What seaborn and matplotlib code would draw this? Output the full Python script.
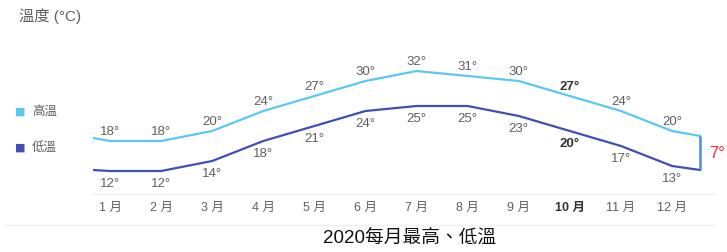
import matplotlib
matplotlib.use("Agg")
import matplotlib.pyplot as plt
from matplotlib.lines import Line2D
import seaborn as sns
import pandas as pd

# data
months = list(range(1, 13))
month_labels = [f"{m} 月" for m in months]
high = [18, 18, 20, 24, 27, 30, 32, 31, 30, 27, 24, 20]
low = [12, 12, 14, 18, 21, 24, 25, 25, 23, 20, 17, 13]
# the lines run a little past Jan and Dec
edge_x = [0.67, 12.55]
high_edge = [18.6, 19.0]
low_edge = [12.2, 12.2]
gap_label = "7°"
bold_month = 10

HIGH_C = "#5ac8f5"
LOW_C = "#3f4fb5"
TEXT_C = "#606060"

sns.set_theme(style="white")
plt.rcParams["font.family"] = ["Liberation Sans", "Noto Sans CJK TC", "DejaVu Sans"]

rows = []
for x, h, l in zip([edge_x[0]] + months + [edge_x[1]],
                   [high_edge[0]] + high + [high_edge[1]],
                   [low_edge[0]] + low + [low_edge[1]]):
    rows.append({"pos": x, "temp": h, "series": "高溫"})
    rows.append({"pos": x, "temp": l, "series": "低溫"})
df = pd.DataFrame(rows)

fig = plt.figure(figsize=(7.27, 2.53), dpi=100)
ax = fig.add_axes([93 / 727, 1 - 195 / 253, 622 / 727, 155 / 253])

sns.lineplot(data=df, x="pos", y="temp", hue="series",
             palette={"高溫": HIGH_C, "低溫": LOW_C}, linewidth=1.6,
             legend=False, ax=ax)

ax.set_xlim(0.667, 12.84)
ax.set_ylim(7.4, 38.4)
ax.set_xlabel("")
ax.set_ylabel("")
ax.set_yticks([])
ax.set_xticks(months)
ax.set_xticklabels(month_labels, fontsize=9, color=TEXT_C)
ax.tick_params(axis="x", length=0, pad=5)
for lab, m in zip(ax.get_xticklabels(), months):
    if m == bold_month:
        lab.set_fontweight("bold")
        lab.set_color("#333333")
for side in ["top", "left", "right"]:
    ax.spines[side].set_visible(False)
ax.spines["bottom"].set_color("#eeeeee")
ax.spines["bottom"].set_linewidth(1)

# value labels
for m, h, l in zip(months, high, low):
    bold = "bold" if m == bold_month else "normal"
    col = "#333333" if m == bold_month else TEXT_C
    ax.annotate(f"{h}°", (m, h), xytext=(0, 7), textcoords="offset points",
                ha="center", va="center", fontsize=9.5, color=col, fontweight=bold)
    ax.annotate(f"{l}°", (m, l), xytext=(0, -8.5), textcoords="offset points",
                ha="center", va="center", fontsize=9.5, color=col, fontweight=bold)

# gap marker at the right end
ax.plot([edge_x[1], edge_x[1]], [low_edge[1], high_edge[1]],
        color="#4a8fd8", linewidth=1.8, solid_capstyle="butt")
ax.annotate(gap_label, (edge_x[1], (low_edge[1] + high_edge[1]) / 2),
            xytext=(12, 0), textcoords="offset points", ha="center",
            va="center", fontsize=12, color="#ff2a2a")

# legend on the left
fig.text(15 / 727, 1 - 112 / 253, "■", color=HIGH_C, fontsize=8,
         va="center", family="DejaVu Sans")
fig.text(32 / 727, 1 - 112 / 253, "高溫", color=TEXT_C, fontsize=9, va="center")
fig.text(15 / 727, 1 - 148 / 253, "■", color=LOW_C, fontsize=8,
         va="center", family="DejaVu Sans")
fig.text(32 / 727, 1 - 148 / 253, "低溫", color=TEXT_C, fontsize=9, va="center")

fig.text(19 / 727, 1 - 16 / 253, "溫度 (°C)", color=TEXT_C, fontsize=11,
         va="center")

fig.add_artist(Line2D([5 / 727, 715 / 727], [1 - 226 / 253, 1 - 226 / 253],
                      color="#f0f0f0", linewidth=1))
fig.text(410 / 727, 1 - 238 / 253, "2020每月最高、低溫", color="#111111",
         fontsize=13.5, ha="center", va="center")

fig.savefig("out.png", dpi=100, facecolor="white")
